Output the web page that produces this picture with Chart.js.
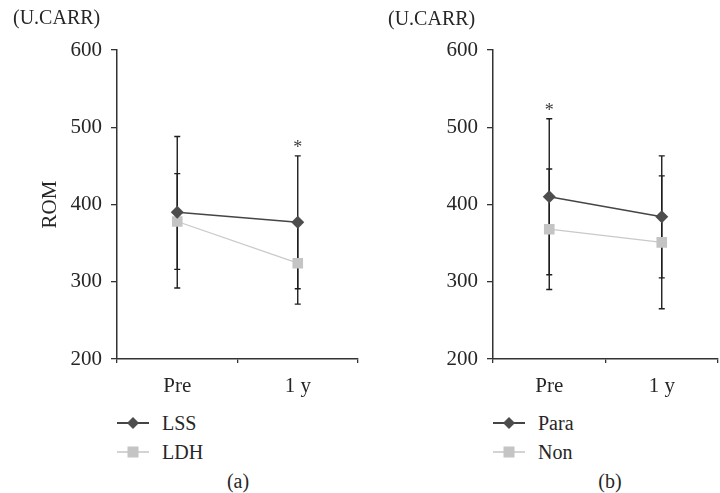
<!DOCTYPE html>
<html>
<head>
<meta charset="utf-8">
<script src="https://cdn.jsdelivr.net/npm/chart.js@4.4.1/dist/chart.umd.min.js"></script>
<style>
  html, body { margin:0; padding:0; background:#fff; }
  body { width:720px; height:493px; position:relative; overflow:hidden;
         font-family:'Liberation Serif','Times New Roman',serif; color:#262626; }
  .panel { position:absolute; top:0; width:360px; height:400px; }
  .txt { position:absolute; font-size:20px; line-height:20px; white-space:nowrap; }
  .leg { position:absolute; font-size:20px; line-height:20px; white-space:nowrap; display:flex; align-items:center; }
  .leg svg { margin-right:13px; }
  .cap { position:absolute; font-size:20px; line-height:20px; transform:translateX(-50%); }
</style>
</head>
<body>
<div class="panel" style="left:0"><canvas id="ca"></canvas></div>
<div class="panel" style="left:360px"><canvas id="cb"></canvas></div>

<div class="txt" style="left:13px; top:7px;">(U.CARR)</div>
<div class="txt" style="left:388px; top:8px;">(U.CARR)</div>

<div id="legA"></div>
<div id="legB"></div>
<div class="cap" style="left:238px; top:471px;">(a)</div>
<div class="cap" style="left:610px; top:471px;">(b)</div>

<script>
// ---- data ----
const categories = ['Pre', '1 y'];
const yTicks = [200, 300, 400, 500, 600];

const seriesA1Name = 'LSS';
const seriesA1 = [390, 377];
const seriesA1Err = [98, 86];
const seriesA2Name = 'LDH';
const seriesA2 = [378, 324];
const seriesA2Err = [62, 53];
const starsA = ['', '*'];

const seriesB1Name = 'Para';
const seriesB1 = [410, 384];
const seriesB1Err = [101, 79];
const seriesB2Name = 'Non';
const seriesB2 = [368, 351];
const seriesB2Err = [78, 86];
const starsB = ['*', ''];

// ---- styles ----
const FONT = "'Liberation Serif','Times New Roman',serif";
const TXT = '#262626';
const AX = '#333333';
const DARK = '#4d4d4d';
const DARKLINE = '#454545';
const LIGHT = '#c4c4c4';
const LIGHTLINE = '#c9c9c9';

const errorBars = {
  id: 'errorBars',
  beforeDatasetsDraw(chart) {
    const {ctx, scales:{x, y}} = chart;
    ctx.save();
    ctx.strokeStyle = '#1e1e1e';
    ctx.lineWidth = 1.4;
    chart.data.datasets.forEach(ds => {
      ds.errors.forEach((e, j) => {
        const px = x.getPixelForValue(j);
        const yt = y.getPixelForValue(ds.data[j] + e);
        const yb = y.getPixelForValue(ds.data[j] - e);
        ctx.beginPath();
        ctx.moveTo(px, yt); ctx.lineTo(px, yb);
        ctx.moveTo(px - 3, yt); ctx.lineTo(px + 3, yt);
        ctx.moveTo(px - 3, yb); ctx.lineTo(px + 3, yb);
        ctx.stroke();
      });
    });
    ctx.restore();
  },
  afterDatasetsDraw(chart, args, opts) {
    const {ctx, scales:{x, y}} = chart;
    const stars = opts.stars || [];
    ctx.save();
    ctx.fillStyle = '#3a3a3a';
    ctx.font = '18px ' + FONT;
    ctx.textAlign = 'center';
    ctx.textBaseline = 'alphabetic';
    stars.forEach((s, j) => {
      if (!s) return;
      let top = -Infinity;
      chart.data.datasets.forEach(ds => { top = Math.max(top, ds.data[j] + ds.errors[j]); });
      const px = x.getPixelForValue(j);
      const py = y.getPixelForValue(top);
      ctx.fillText(s, px, py - 3);
    });
    ctx.restore();
  }
};

function makeChart(id, d1, e1, n1, d2, e2, n2, stars, yWidth, showTitle) {
  return new Chart(document.getElementById(id), {
    type: 'line',
    data: {
      labels: categories,
      datasets: [
        { label: n1, data: d1, errors: e1, borderColor: DARKLINE, backgroundColor: DARK,
          pointBackgroundColor: DARK, pointBorderColor: DARK, pointStyle: 'rectRot',
          pointRadius: 6.5, pointBorderWidth: 0, borderWidth: 1.5, tension: 0 },
        { label: n2, data: d2, errors: e2, borderColor: LIGHTLINE, backgroundColor: LIGHT,
          pointBackgroundColor: LIGHT, pointBorderColor: LIGHT, pointStyle: 'rect',
          pointRadius: 7.5, pointBorderWidth: 0, borderWidth: 1.3, tension: 0 }
      ]
    },
    options: {
      responsive: true,
      maintainAspectRatio: false,
      animation: false,
      layout: { autoPadding: false, padding: { top: 50, right: 2, left: 0, bottom: 0 } },
      plugins: {
        legend: { display: false },
        tooltip: { enabled: false },
        errorBars: { stars: stars }
      },
      scales: {
        x: {
          type: 'category',
          offset: true,
          grid: { offset: true, drawOnChartArea: false, drawTicks: true, tickLength: 4, color: AX, lineWidth: 1.3 },
          border: { color: AX, width: 1.5 },
          ticks: { color: TXT, font: { family: FONT, size: 21 }, padding: 11, maxRotation: 0 },
          afterFit(s) { s.height = 41; }
        },
        y: {
          min: yTicks[0], max: yTicks[yTicks.length - 1],
          afterBuildTicks(s) { s.ticks = yTicks.map(v => ({ value: v })); },
          grid: { drawOnChartArea: false, drawTicks: true, tickLength: 6, color: AX, lineWidth: 1.3 },
          border: { color: AX, width: 1.5 },
          ticks: { color: TXT, font: { family: FONT, size: 21 }, padding: 9 },
          title: { display: showTitle, text: 'ROM', color: TXT, font: { family: FONT, size: 21 }, padding: { top: 38 } },
          afterFit(s) { s.width = yWidth; }
        }
      }
    },
    plugins: [errorBars]
  });
}

makeChart('ca', seriesA1, seriesA1Err, seriesA1Name, seriesA2, seriesA2Err, seriesA2Name, starsA, 117, true);
makeChart('cb', seriesB1, seriesB1Err, seriesB1Name, seriesB2, seriesB2Err, seriesB2Name, starsB, 133, false);

// ---- HTML legends ----
function markerSvg(kind) {
  if (kind === 'diamond') {
    return `<svg width="32" height="14" viewBox="0 0 32 14"><line x1="0" y1="7" x2="32" y2="7" stroke="${DARKLINE}" stroke-width="2"/><polygon points="16,1 22,7 16,13 10,7" fill="${DARK}"/></svg>`;
  }
  return `<svg width="32" height="14" viewBox="0 0 32 14"><line x1="0" y1="7" x2="32" y2="7" stroke="${LIGHTLINE}" stroke-width="1.6"/><rect x="10.5" y="1.5" width="11" height="11" fill="${LIGHT}"/></svg>`;
}
function legend(elId, left, names) {
  const el = document.getElementById(elId);
  el.innerHTML =
    `<div class="leg" style="left:${left}px; top:413px;">${markerSvg('diamond')}<span>${names[0]}</span></div>` +
    `<div class="leg" style="left:${left}px; top:442px;">${markerSvg('square')}<span>${names[1]}</span></div>`;
}
legend('legA', 117, [seriesA1Name, seriesA2Name]);
legend('legB', 493, [seriesB1Name, seriesB2Name]);
</script>
</body>
</html>
